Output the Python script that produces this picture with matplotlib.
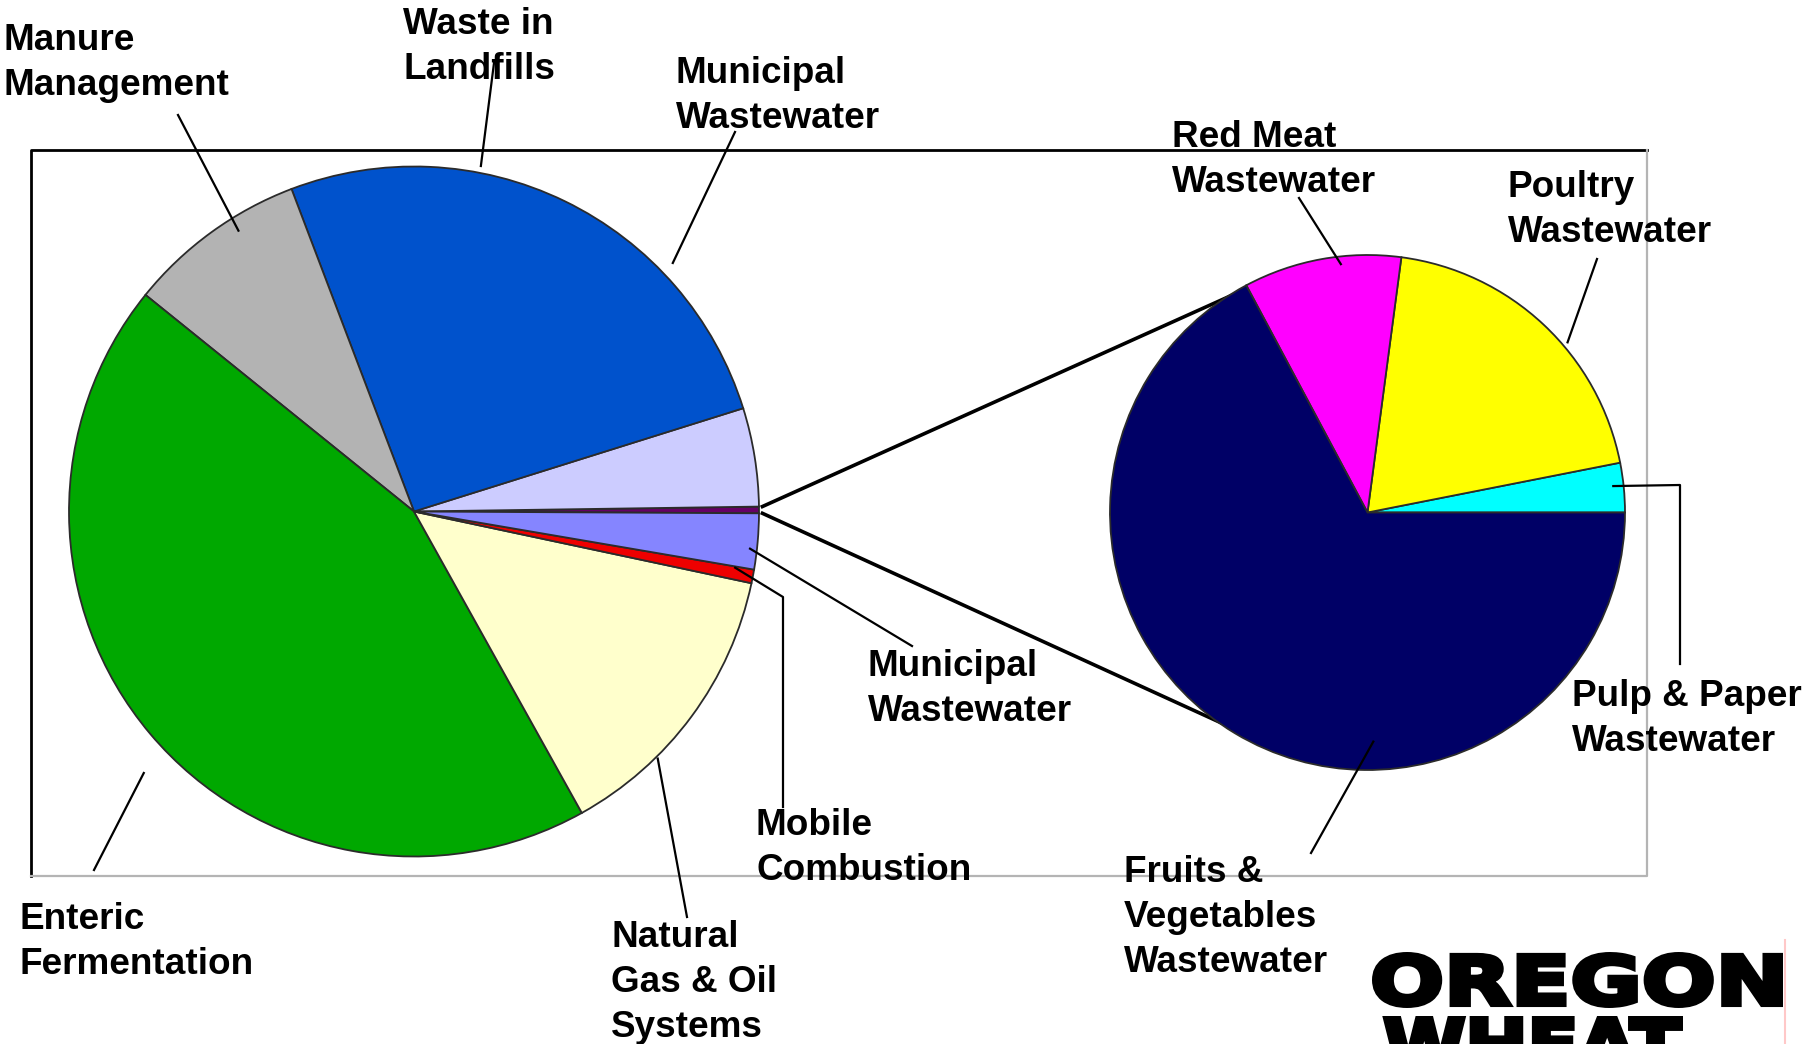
import numpy as np
import matplotlib
matplotlib.use("Agg")
import matplotlib.pyplot as plt
from matplotlib.font_manager import FontProperties
from matplotlib.patches import PathPatch
from matplotlib.textpath import TextPath
from matplotlib.transforms import Affine2D

W, H = 1802, 1044

# methane sources, share of total (%), counter-clockwise from 3 o'clock
main_names = ["Industrial Wastewater", "Other Sources", "Waste in Landfills",
              "Manure Management", "Enteric Fermentation", "Natural Gas & Oil Systems",
              "Mobile Combustion", "Municipal Wastewater"]
main_share = [0.31, 4.61, 25.94, 8.42, 43.89, 13.58, 0.64, 2.61]
main_colors = ["#660066", "#ccccff", "#0052cc", "#b3b3b3", "#00a800",
               "#ffffcc", "#ee0000", "#8585ff"]

# breakdown of industrial wastewater (%)
ind_names = ["Pulp & Paper Wastewater", "Poultry Wastewater",
             "Red Meat Wastewater", "Fruits & Vegetables Wastewater"]
ind_share = [3.1, 19.8, 9.9, 67.2]
ind_colors = ["#00ffff", "#ffff00", "#ff00ff", "#000066"]


def Y(y):
    # pixel rows are counted from the top
    return H - y


fig = plt.figure(figsize=(W / 100, H / 100), dpi=100)
ax = fig.add_axes([0, 0, 1, 1])

wp = dict(edgecolor="#2b2b2b", linewidth=1.3)
main_w, _ = ax.pie(main_share, colors=main_colors, startangle=-0.3,
                   center=(414, Y(511.5)), radius=345, wedgeprops=wp)
ind_w, _ = ax.pie(ind_share, colors=ind_colors, startangle=0,
                  center=(1367.5, Y(512.5)), radius=257.5, wedgeprops=wp)

ax.set_xlim(0, W)
ax.set_ylim(0, H)
ax.set_aspect("equal")
ax.axis("off")


def rim(w, ang, rf=1.0):
    a = np.radians(ang)
    return (w.center[0] + rf * w.r * np.cos(a), w.center[1] + rf * w.r * np.sin(a))


def inside(w, t, rf):
    return rim(w, w.theta1 + t * (w.theta2 - w.theta1), rf)


# chart frame
ax.plot([31, 31, 1647], [Y(876), Y(150), Y(150)], color="black", lw=2, zorder=0)
ax.plot([1647, 1647, 31], [Y(150), Y(876), Y(876)], color="#b4b4b4", lw=1.6, zorder=0)

# connectors from the industrial slice to the second pie
iw = main_w[0]
nav = ind_w[-1]
for a_main, a_ind in ((iw.theta2, 119.7), (iw.theta1, 237.0)):
    p0 = rim(iw, a_main, 1.01)
    p1 = rim(nav, a_ind, 0.99)
    ax.plot([p0[0], p1[0]], [p0[1], p1[1]], color="black", lw=2.6, zorder=0.5)

font = dict(family="Liberation Sans", weight="bold", fontsize=26.6,
            linespacing=1.37, ha="left", va="top", color="black")

# text, text position (left, cap top), leader path, (wedges, index, t, radius fraction)
labels = [
    ("Manure\nManagement", (3, 23), [(178, 115)], (main_w, 3, 0.37, 0.96)),
    ("Waste in\nLandfills", (403, 7), [(494, 63)], (main_w, 2, 0.66, 1.02)),
    ("Municipal\nWastewater", (676, 56), [(735, 132)], (main_w, 2, 0.283, 1.04)),
    ("Red Meat\nWastewater", (1172, 120), [(1299, 198)], (ind_w, 2, 0.384, 0.97)),
    ("Poultry\nWastewater", (1508, 170), [(1597, 259)], (ind_w, 1, 0.41, 1.02)),
    ("Pulp & Paper\nWastewater", (1572, 679), [(1680, 664), (1680, 485)], (ind_w, 0, 0.55, 0.96)),
    ("Fruits &\nVegetables\nWastewater", (1124, 855), [(1311, 853)], (ind_w, 3, 0.634, 0.89)),
    ("Municipal\nWastewater", (868, 649), [(912, 646)], (main_w, 7, 0.36, 0.98)),
    ("Mobile\nCombustion", (756, 808), [(783, 807), (783, 597)], (main_w, 6, 0.9, 0.945)),
    ("Natural\nGas & Oil\nSystems", (611, 920), [(687, 917)], (main_w, 5, 0.317, 1.006)),
    ("Enteric\nFermentation", (20, 902), [(94, 870)], (main_w, 4, 0.525, 1.09)),
]
for text, (tx, ty), path, (ws, i, t, rf) in labels:
    ax.text(tx, Y(ty), text, **font, zorder=3)
    end = inside(ws[i], t, rf)
    xs = [p[0] for p in path] + [end[0]]
    ys = [Y(p[1]) for p in path] + [end[1]]
    ax.plot(xs, ys, color="black", lw=1.6, zorder=4)

# logo, heavy lettering stretched into its box
fp = FontProperties(family="DejaVu Sans", weight="bold")
pad = 2.5
for word, (x0, y0, x1, y1) in (("OREGON", (1372, 952, 1783, 1008)),
                               ("WHEAT", (1383, 1016, 1683, 1072))):
    tp = TextPath((0, 0), word, size=100, prop=fp)
    bb = tp.get_extents()
    tr = (Affine2D().translate(-bb.x0, -bb.y0)
          .scale((x1 - x0 - 2 * pad) / bb.width, (y1 - y0 - 2 * pad) / bb.height)
          .translate(x0 + pad, Y(y1) + pad))
    ax.add_patch(PathPatch(tr.transform_path(tp), facecolor="black",
                           edgecolor="black", lw=3.6, joinstyle="miter", zorder=3))
ax.plot([1785, 1785], [Y(940), Y(1044)], color="#ffc8c8", lw=1.5, zorder=3)

fig.savefig("out.png", dpi=100, facecolor="white")
